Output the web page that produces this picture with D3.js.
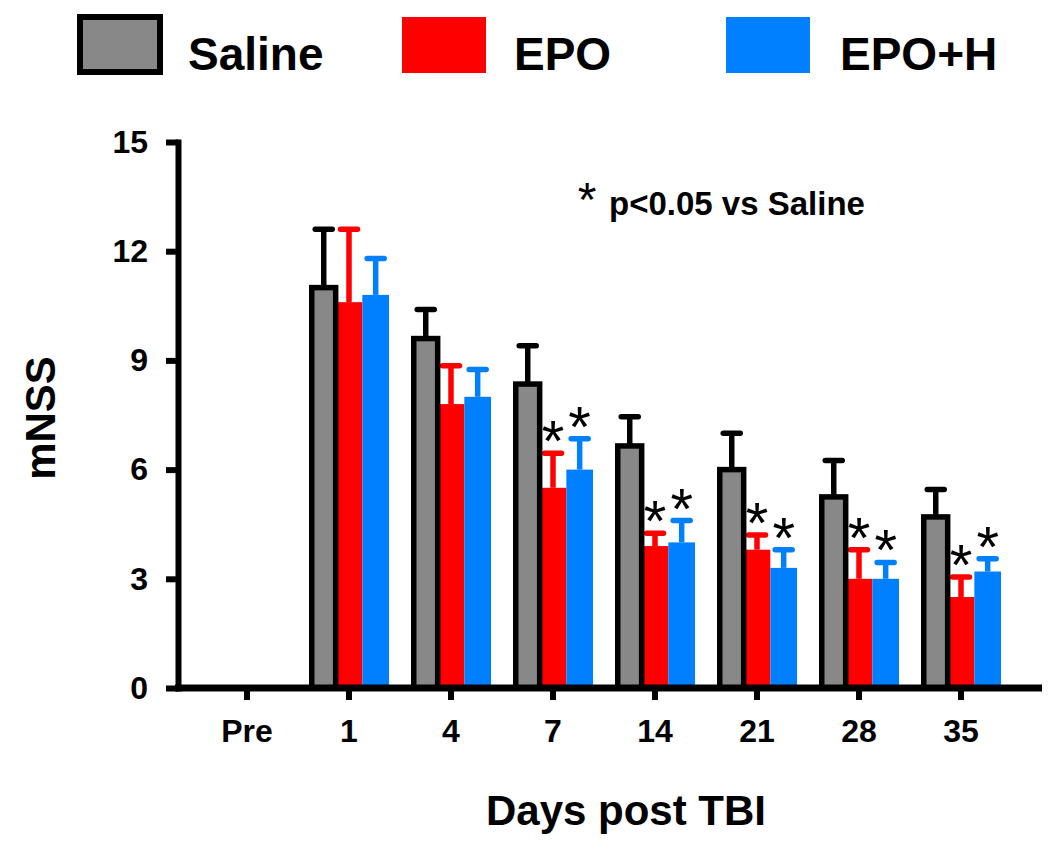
<!DOCTYPE html>
<html>
<head>
<meta charset="utf-8">
<script src="https://cdn.jsdelivr.net/npm/d3@7"></script>
<style>
  html, body { margin: 0; padding: 0; background: #fff; }
  svg { display: block; font-family: "Liberation Sans", Arial, sans-serif; }
</style>
</head>
<body>
<svg id="chart" width="1050" height="845"></svg>
<script>
// ---- data ----
const categories = ["Pre", "1", "4", "7", "14", "21", "28", "35"];
const seriesNames = ["Saline", "EPO", "EPO+H"];
const salineMean = [null, 11.0, 9.6, 8.35, 6.65, 6.0, 5.25, 4.7];
const salineErr  = [null, 12.6, 10.4, 9.4, 7.45, 7.0, 6.25, 5.45];
const epoMean    = [null, 10.6, 7.8, 5.5, 3.9, 3.8, 3.0, 2.5];
const epoErr     = [null, 12.6, 8.85, 6.45, 4.25, 4.2, 3.8, 3.05];
const epohMean   = [null, 10.8, 8.0, 6.0, 4.0, 3.3, 3.0, 3.2];
const epohErr    = [null, 11.8, 8.75, 6.85, 4.6, 3.8, 3.45, 3.55];
const epoSig     = [false, false, false, true, true, true, true, true];
const epohSig    = [false, false, false, true, true, true, true, true];
const yTicks = [0, 3, 6, 9, 12, 15];
const colors = { "Saline": "#888888", "EPO": "#ff0000", "EPO+H": "#0080ff" };
const strokeColors = { "Saline": "#000000", "EPO": "#ff0000", "EPO+H": "#0080ff" };

const series = [
  { name: "Saline", mean: salineMean, err: salineErr, sig: null },
  { name: "EPO", mean: epoMean, err: epoErr, sig: epoSig },
  { name: "EPO+H", mean: epohMean, err: epohErr, sig: epohSig }
];

const svg = d3.select("#chart");
const FONT = '"Liberation Sans", Arial, sans-serif';

// ---- scales ----
const axisX = 178, axisRight = 1042;
const y = d3.scaleLinear().domain([0, 15]).range([688, 142]);
const x0 = d3.scaleBand().domain(categories).range([196, 1012])
  .paddingInner(0.2157).paddingOuter(0.1078);
const x1 = d3.scaleBand().domain(seriesNames).range([0, x0.bandwidth()]);

// ---- y axis ----
const yAxis = d3.axisLeft(y).tickValues(yTicks).tickSize(12).tickSizeOuter(0).tickPadding(18);
const gy = svg.append("g").attr("transform", `translate(${axisX},0)`).call(yAxis);
gy.select(".domain").attr("stroke", "#000").attr("stroke-width", 6).attr("stroke-linecap", "square");
gy.selectAll(".tick line").attr("stroke", "#000").attr("stroke-width", 6);
gy.selectAll(".tick text").attr("fill", "#000").style("font-family", FONT)
  .style("font-size", "32px").style("font-weight", "bold");

// ---- x axis ----
const xAxis = d3.axisBottom(x0).tickSize(12).tickSizeOuter(0).tickPadding(19);
const gx = svg.append("g").attr("transform", `translate(0,${y(0)})`).call(xAxis);
gx.select(".domain").remove();
gx.selectAll(".tick line").attr("stroke", "#000").attr("stroke-width", 6);
gx.selectAll(".tick text").attr("fill", "#000").style("font-family", FONT)
  .style("font-size", "32px").style("font-weight", "bold");

// ---- bars ----
const groups = svg.append("g").selectAll("g.grp").data(categories).join("g")
  .attr("class", "grp").attr("transform", c => `translate(${x0(c)},0)`);

const bw = x1.bandwidth();
const SW = 5.5;

// error bars first (under bars)
series.forEach(s => {
  groups.each(function(c, i) {
    if (s.mean[i] == null) return;
    const g = d3.select(this);
    const cx = x1(s.name) + bw / 2 + (s.name === "Saline" ? 1.4 : 0);
    const col = strokeColors[s.name];
    g.append("line").attr("x1", cx).attr("x2", cx)
      .attr("y1", y(s.mean[i])).attr("y2", y(s.err[i]))
      .attr("stroke", col).attr("stroke-width", 5.5);
    g.append("line").attr("x1", cx - 8.5).attr("x2", cx + 8.5)
      .attr("y1", y(s.err[i])).attr("y2", y(s.err[i]))
      .attr("stroke", col).attr("stroke-width", 5.5).attr("stroke-linecap", "round");
  });
});

// colored bars
["EPO", "EPO+H"].forEach(name => {
  const s = series.find(d => d.name === name);
  groups.each(function(c, i) {
    if (s.mean[i] == null) return;
    d3.select(this).append("rect")
      .attr("x", x1(name)).attr("width", bw)
      .attr("y", y(s.mean[i])).attr("height", y(0) - y(s.mean[i]))
      .attr("fill", colors[name]);
  });
});

// saline bars with black border
groups.each(function(c, i) {
  const v = salineMean[i];
  if (v == null) return;
  d3.select(this).append("rect")
    .attr("x", x1("Saline") + SW / 2).attr("width", bw - SW / 2)
    .attr("y", y(v)).attr("height", y(0) - y(v))
    .attr("fill", colors["Saline"]).attr("stroke", "#000").attr("stroke-width", SW);
});

// x baseline
svg.append("line").attr("x1", axisX - 3).attr("x2", axisRight)
  .attr("y1", y(0)).attr("y2", y(0)).attr("stroke", "#000").attr("stroke-width", 7);

// significance asterisks
series.filter(s => s.sig).forEach(s => {
  groups.each(function(c, i) {
    if (!s.sig[i]) return;
    d3.select(this).append("text")
      .attr("x", x1(s.name) + bw / 2).attr("y", y(s.err[i]) + 8)
      .attr("text-anchor", "middle")
      .style("font-family", FONT).style("font-size", "58px").attr("fill", "#000")
      .text("*");
  });
});

// ---- annotation ----
svg.append("text").attr("x", 587).attr("y", 216).attr("text-anchor", "middle")
  .style("font-family", FONT).style("font-size", "48px").attr("fill", "#000").text("*");
svg.append("text").attr("x", 609).attr("y", 215)
  .style("font-family", FONT).style("font-size", "33px").style("font-weight", "bold")
  .attr("fill", "#000").text("p<0.05 vs Saline");

// ---- axis titles ----
svg.append("text").attr("transform", "translate(55,418) rotate(-90)")
  .attr("text-anchor", "middle")
  .style("font-family", FONT).style("font-size", "42px").style("font-weight", "bold")
  .text("mNSS");
svg.append("text").attr("x", 626).attr("y", 825).attr("text-anchor", "middle")
  .style("font-family", FONT).style("font-size", "42px").style("font-weight", "bold")
  .text("Days post TBI");

// ---- legend ----
const legendX = [77, 402, 726];
const legendTextX = [188, 514, 840];
seriesNames.forEach((name, i) => {
  if (name === "Saline") {
    svg.append("rect").attr("x", legendX[i] + 3).attr("y", 17).attr("width", 80).attr("height", 55)
      .attr("fill", colors[name]).attr("stroke", "#000").attr("stroke-width", 6);
  } else {
    svg.append("rect").attr("x", legendX[i]).attr("y", 17).attr("width", 84).attr("height", 56)
      .attr("fill", colors[name]);
  }
  svg.append("text").attr("x", legendTextX[i]).attr("y", 70)
    .style("font-family", FONT).style("font-size", "46px").style("font-weight", "bold")
    .text(name);
});
</script>
</body>
</html>
